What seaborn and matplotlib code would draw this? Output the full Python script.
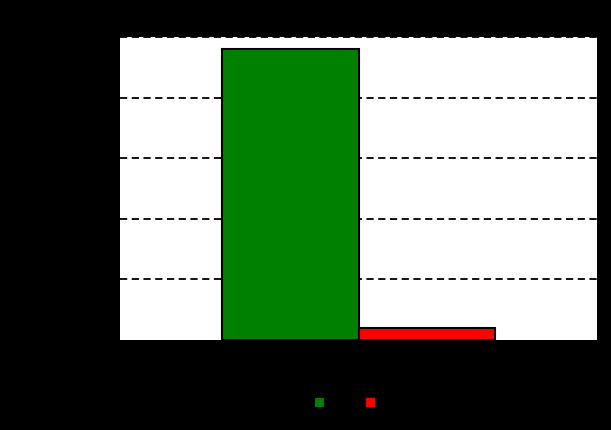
import matplotlib
matplotlib.use("Agg")
import matplotlib.pyplot as plt
import seaborn as sns
import pandas as pd

# Data
category = ["Prediction"]
labels = ["Yes", "No"]
values = [95.9, 4.1]
colors = ["#008000", "#ff0000"]

df = pd.DataFrame({
    "category": category * len(labels),
    "answer": labels,
    "percent": values,
})

sns.set_theme(style="white")
plt.rcParams["font.family"] = ["DejaVu Sans"]
plt.rcParams["text.color"] = "black"
plt.rcParams["axes.labelcolor"] = "black"
plt.rcParams["xtick.color"] = "black"
plt.rcParams["ytick.color"] = "black"

fig = plt.figure(figsize=(6.11, 4.30), dpi=100, facecolor="black")
ax = fig.add_axes([120 / 611, 1 - 340 / 430, 477 / 611, 303 / 430])
ax.set_facecolor("white")

sns.barplot(data=df, x="category", y="percent", hue="answer",
            palette=colors, width=0.572, edgecolor="black", linewidth=1.5,
            saturation=1, ax=ax)

ax.set_ylim(0, 100)
ax.set_yticks([0, 20, 40, 60, 80, 100])
ax.set_axisbelow(True)
ax.yaxis.grid(True, linestyle=(0, (4, 2.5)), color="black", linewidth=1.3)
ax.xaxis.grid(False)
ax.yaxis.get_gridlines()[0].set_visible(False)
for s in ax.spines.values():
    s.set_visible(False)

ax.set_xlabel("")
ax.set_ylabel("Percentage (%)")
ax.set_title("Prediction results")

ax.legend(loc="center", bbox_to_anchor=(0.496, -0.208), ncol=2, frameon=False,
          handlelength=0.9, handleheight=1.0, handletextpad=0.5,
          columnspacing=1.1, fontsize=9)

fig.savefig("out.png", dpi=100, facecolor="black")
